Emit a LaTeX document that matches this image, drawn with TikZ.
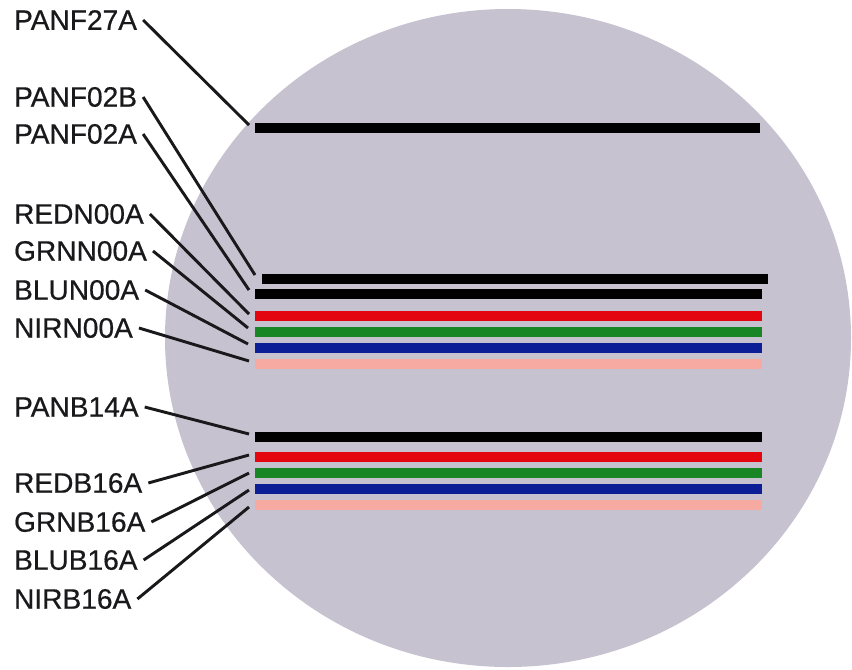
\documentclass[tikz,border=0pt]{standalone}
\usepackage{fontspec}
\setmainfont{Liberation Sans}
\newfontfamily\lblfont{Liberation Sans}[FakeBold=0.6]
\usepackage{xcolor}
\usepackage{tikz}
\definecolor{diskgray}{RGB}{198,194,207}
\definecolor{bandred}{RGB}{228,6,14}
\definecolor{bandgreen}{RGB}{24,134,36}
\definecolor{bandblue}{RGB}{12,30,150}
\definecolor{bandnir}{RGB}{246,170,162}
\definecolor{inkdark}{RGB}{25,25,28}

\begin{document}
\begin{tikzpicture}[x=0.03cm,y=-0.03cm,font=\lblfont\fontsize{24}{27}\selectfont,
  lbl/.style={anchor=west,inner xsep=5pt,inner ysep=0pt,text=inkdark},
  bar/.style={line width=8.6pt},
  lead/.style={line width=2.5pt,draw=inkdark}]
\useasboundingbox (0,0) rectangle (852,669);
\fill[diskgray] (508,338) ellipse [x radius=343,y radius=329];
% forward bands
\draw[bar,black]     (255,128) -- (760,128);
\draw[bar,black]     (262,279) -- (768,279);
\draw[bar,black]     (255,294) -- (762,294);
\draw[bar,bandred]   (255,316) -- (762,316);
\draw[bar,bandgreen] (255,332) -- (762,332);
\draw[bar,bandblue]  (255,348) -- (762,348);
\draw[bar,bandnir]   (255,364) -- (762,364);
% backward bands
\draw[bar,black]     (255,437) -- (762,437);
\draw[bar,bandred]   (255,457) -- (762,457);
\draw[bar,bandgreen] (255,473) -- (762,473);
\draw[bar,bandblue]  (255,489) -- (762,489);
\draw[bar,bandnir]   (255,505) -- (762,505);
% leader ends
\coordinate (e-panf27a) at (249,125);
\coordinate (e-panf02b) at (255,275);
\coordinate (e-panf02a) at (249,290);
\coordinate (e-redn00a) at (249,314);
\coordinate (e-grnn00a) at (248,328);
\coordinate (e-blun00a) at (248,344);
\coordinate (e-nirn00a) at (249,361);
\coordinate (e-panb14a) at (249,434);
\coordinate (e-redb16a) at (249,455);
\coordinate (e-grnb16a) at (249,473);
\coordinate (e-blub16a) at (249,490);
\coordinate (e-nirb16a) at (249,507);
% labels
\node[lbl] (panf27a) at (8,20)  {PANF27A};
\node[lbl] (panf02b) at (8,97)  {PANF02B};
\node[lbl] (panf02a) at (8,134) {PANF02A};
\node[lbl] (redn00a) at (8,214) {REDN00A};
\node[lbl] (grnn00a) at (8,251) {GRNN00A};
\node[lbl] (blun00a) at (8,290) {BLUN00A};
\node[lbl] (nirn00a) at (8,328) {NIRN00A};
\node[lbl] (panb14a) at (8,407) {PANB14A};
\node[lbl] (redb16a) at (8,483) {REDB16A};
\node[lbl] (grnb16a) at (8,522) {GRNB16A};
\node[lbl] (blub16a) at (8,560) {BLUB16A};
\node[lbl] (nirb16a) at (8,599) {NIRB16A};
\draw[lead] (panf27a.east) -- (e-panf27a);
\draw[lead] (panf02b.east) -- (e-panf02b);
\draw[lead] (panf02a.east) -- (e-panf02a);
\draw[lead] (redn00a.east) -- (e-redn00a);
\draw[lead] (grnn00a.east) -- (e-grnn00a);
\draw[lead] (blun00a.east) -- (e-blun00a);
\draw[lead] (nirn00a.east) -- (e-nirn00a);
\draw[lead] (panb14a.east) -- (e-panb14a);
\draw[lead] (redb16a.east) -- (e-redb16a);
\draw[lead] (grnb16a.east) -- (e-grnb16a);
\draw[lead] (blub16a.east) -- (e-blub16a);
\draw[lead] (nirb16a.east) -- (e-nirb16a);
\end{tikzpicture}
\end{document}
